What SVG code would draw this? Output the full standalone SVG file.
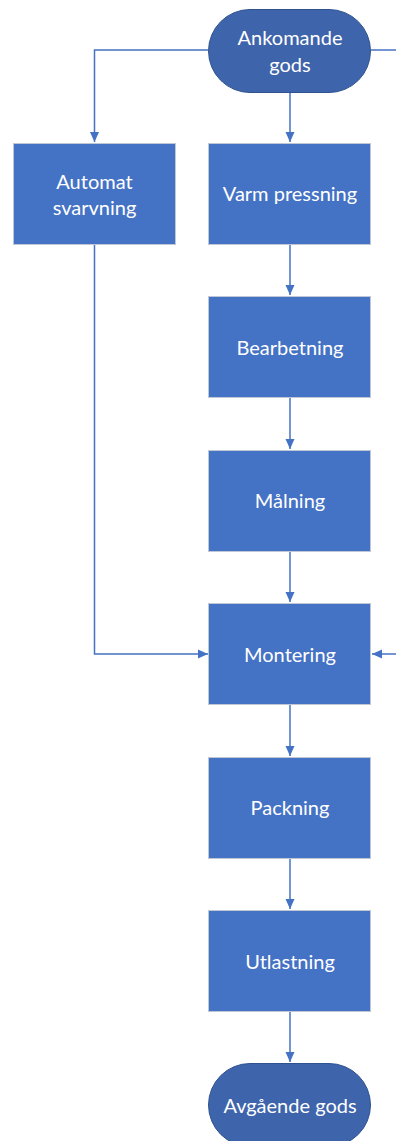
<svg xmlns="http://www.w3.org/2000/svg" width="396" height="1141" viewBox="0 0 396 1141">
<style>
.box{fill:#4472C4;stroke:#BFC7D5;stroke-width:1}
.term{fill:#3E64AB;stroke:#2F528F;stroke-width:1}
.lbl{fill:#FFFFFF;font-family:Lato,"Open Sans",sans-serif;font-size:20px;text-anchor:middle}
.con{fill:none;stroke:#4472C4;stroke-width:1.5}
</style>
<defs>
<marker id="ah" viewBox="0 0 10 10" refX="10" refY="5" markerWidth="10" markerHeight="10" markerUnits="userSpaceOnUse" orient="auto">
<path d="M0,0.5 L10,5 L0,9.5 Z" fill="#4472C4"/>
</marker>
</defs>
<g id="connectors">
<path class="con" d="M208,50 H94.5 V142" marker-end="url(#ah)"/>
<path class="con" d="M371,50 H396"/>
<path class="con" d="M290,92 V142" marker-end="url(#ah)"/>
<path class="con" d="M290,245 V295" marker-end="url(#ah)"/>
<path class="con" d="M290,398 V449" marker-end="url(#ah)"/>
<path class="con" d="M290,552 V602" marker-end="url(#ah)"/>
<path class="con" d="M94.5,245 V654 H208" marker-end="url(#ah)"/>
<path class="con" d="M396,654 H372" marker-end="url(#ah)"/>
<path class="con" d="M290,705 V756" marker-end="url(#ah)"/>
<path class="con" d="M290,859 V909" marker-end="url(#ah)"/>
<path class="con" d="M290,1012 V1062" marker-end="url(#ah)"/>
</g>
<g id="ankomande">
<rect class="term" x="208.5" y="9.5" width="162" height="83" rx="41.5"/>
<text class="lbl" x="290" y="45">Ankomande</text>
<text class="lbl" x="290" y="72">gods</text>
</g>
<g id="automat">
<rect class="box" x="13.5" y="143.5" width="162" height="101"/>
<text class="lbl" x="94.5" y="189">Automat</text>
<text class="lbl" x="94.5" y="215">svarvning</text>
</g>
<g id="varm">
<rect class="box" x="208.5" y="143.5" width="162" height="101"/>
<text class="lbl" x="290" y="201">Varm pressning</text>
</g>
<g id="bearbetning">
<rect class="box" x="208.5" y="296.5" width="162" height="101"/>
<text class="lbl" x="290" y="355">Bearbetning</text>
</g>
<g id="malning">
<rect class="box" x="208.5" y="450.5" width="162" height="101"/>
<text class="lbl" x="290" y="508">Målning</text>
</g>
<g id="montering">
<rect class="box" x="208.5" y="603.5" width="162" height="101"/>
<text class="lbl" x="290" y="662">Montering</text>
</g>
<g id="packning">
<rect class="box" x="208.5" y="757.5" width="162" height="101"/>
<text class="lbl" x="290" y="815">Packning</text>
</g>
<g id="utlastning">
<rect class="box" x="208.5" y="910.5" width="162" height="101"/>
<text class="lbl" x="290" y="969">Utlastning</text>
</g>
<g id="avgaende">
<rect class="term" x="208.5" y="1063.5" width="162" height="83" rx="41.5"/>
<text class="lbl" x="290" y="1113">Avgående gods</text>
</g>
</svg>
